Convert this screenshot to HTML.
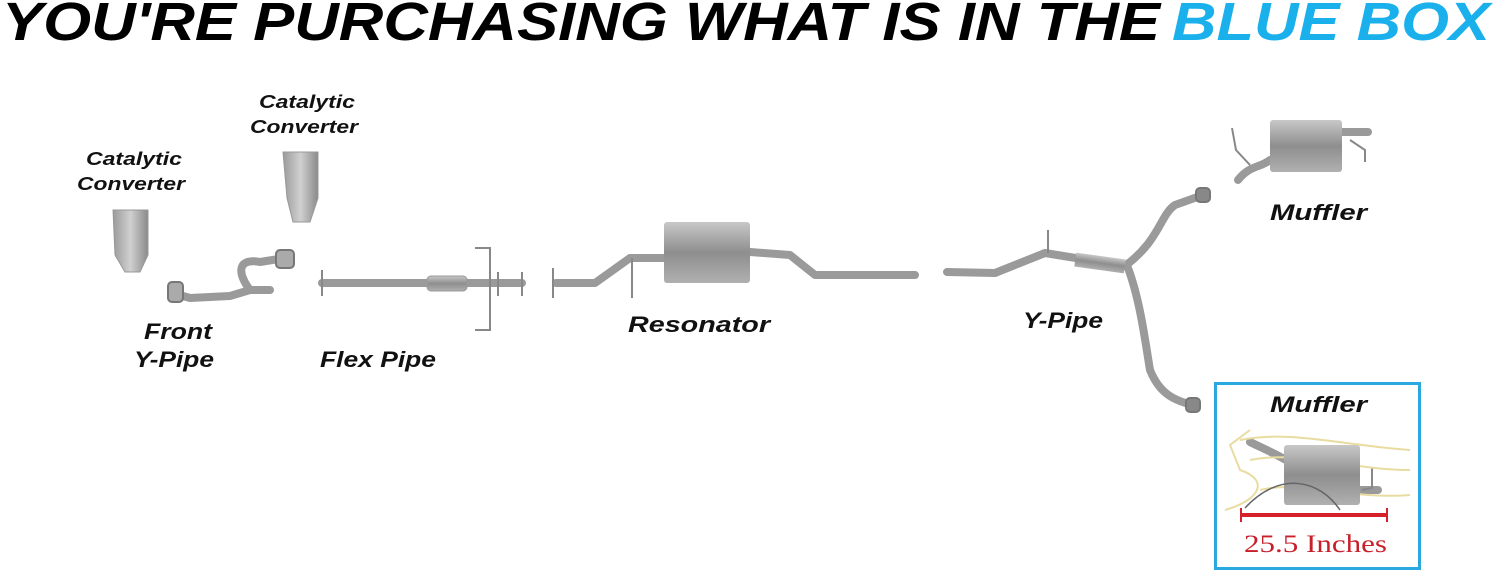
<!DOCTYPE html>
<html><head><meta charset="utf-8"><style>
html,body{margin:0;padding:0;background:#fff;width:1500px;height:573px;overflow:hidden}
</style></head><body>
<svg width="1500" height="573" viewBox="0 0 1500 573" xmlns="http://www.w3.org/2000/svg">
<defs>
<linearGradient id="g" x1="0" y1="0" x2="0" y2="1"><stop offset="0" stop-color="#c8c8c8"/><stop offset="0.5" stop-color="#8e8e8e"/><stop offset="1" stop-color="#b0b0b0"/></linearGradient>
<linearGradient id="gv" x1="0" y1="0" x2="1" y2="0"><stop offset="0" stop-color="#9a9a9a"/><stop offset="0.5" stop-color="#d0d0d0"/><stop offset="1" stop-color="#8a8a8a"/></linearGradient>
</defs>
<g font-family="Liberation Sans, sans-serif" font-weight="bold" font-style="italic" font-size="54">
<text x="2" y="40" textLength="1158" lengthAdjust="spacingAndGlyphs" fill="#000">YOU'RE PURCHASING WHAT IS IN THE</text>
<text x="1172" y="40" textLength="318" lengthAdjust="spacingAndGlyphs" fill="#1ab0ec">BLUE BOX</text>
</g>
<g fill="none" stroke="#9a9a9a" stroke-width="8" stroke-linejoin="round" stroke-linecap="round">
<path d="M176 294 L190 298 L230 296 L250 290 L270 290"/>
<path d="M250 290 C235 270 240 258 260 262 L285 258"/>
<path d="M322 283 L522 283"/>
<path d="M556 283 L595 283 L630 258 L664 258"/>
<path d="M750 252 L790 255 L815 275 L915 275"/>
<path d="M947 272 L995 273 L1045 253 L1125 266"/>
<path d="M1125 266 C1160 240 1160 215 1175 205 L1203 195"/>
<path d="M1128 268 C1140 300 1145 340 1150 370 C1160 395 1175 400 1192 405"/>
<path d="M1238 180 C1250 165 1260 168 1270 160"/>
<path d="M1340 132 L1368 132"/>
<path d="M1250 442 C1262 448 1272 452 1286 460"/>
<path d="M1360 490 L1378 490"/>
</g>
<g stroke="#888" stroke-width="2" fill="none">
<path d="M322 270 V296 M522 272 V296 M553 268 V298 M475 248 H490 V330 H475 M498 272 V296"/>
<path d="M632 258 V298 M1048 230 V253 M1232 128 L1236 150 L1250 165 M1350 140 L1365 150 L1365 162 M1372 468 V488 L1362 490"/>
</g>
<g stroke="#777" stroke-width="2">
<rect x="168" y="282" width="15" height="20" rx="4" fill="#aaa"/>
<rect x="276" y="250" width="18" height="18" rx="4" fill="#aaa"/>
<rect x="1196" y="188" width="14" height="14" rx="4" fill="#888"/>
<rect x="1186" y="398" width="14" height="14" rx="4" fill="#888"/>
</g>
<rect x="427" y="276" width="40" height="15" rx="4" fill="url(#g)" stroke="#999"/>
<path d="M113 210 H148 V255 L140 272 H125 L115 255 Z" fill="url(#gv)" stroke="#999"/>
<path d="M283 152 H318 V198 L310 222 H293 L287 198 Z" fill="url(#gv)" stroke="#999"/>
<rect x="664" y="222" width="86" height="61" rx="3" fill="url(#g)"/>
<rect x="1075" y="256" width="50" height="14" fill="url(#g)" transform="rotate(8 1100 263)"/>
<rect x="1270" y="120" width="72" height="52" rx="3" fill="url(#g)"/>
<rect x="1215.5" y="383.5" width="204" height="185" fill="none" stroke="#2aa8e0" stroke-width="3"/>
<g fill="none" stroke="#e8dca0" stroke-width="2">
<path d="M1240 440 C1290 430 1340 445 1410 450"/>
<path d="M1250 460 C1300 450 1350 470 1410 470"/>
<path d="M1260 490 C1300 480 1350 500 1410 495"/>
<path d="M1225 510 C1260 500 1270 480 1240 470 L1230 445 L1250 430"/>
</g>
<rect x="1284" y="445" width="76" height="60" rx="3" fill="url(#g)"/>
<path d="M1245 508 C1280 470 1320 480 1340 510" fill="none" stroke="#666" stroke-width="1.5"/>
<line x1="1241" y1="515" x2="1387" y2="515" stroke="#d6202a" stroke-width="4"/>
<line x1="1241" y1="508" x2="1241" y2="522" stroke="#d6202a" stroke-width="2"/>
<line x1="1387" y1="508" x2="1387" y2="522" stroke="#d6202a" stroke-width="2"/>
<text x="1244" y="552" textLength="143" lengthAdjust="spacingAndGlyphs" font-family="Liberation Serif, serif" font-size="25" fill="#c8202a">25.5 Inches</text>
<g font-family="Liberation Sans, sans-serif" font-weight="bold" font-style="italic" fill="#111" lengthAdjust="spacingAndGlyphs">
<g font-size="18">
<text x="86" y="165" textLength="96" lengthAdjust="spacingAndGlyphs">Catalytic</text><text x="77" y="190" textLength="108" lengthAdjust="spacingAndGlyphs">Converter</text>
<text x="259" y="108" textLength="96" lengthAdjust="spacingAndGlyphs">Catalytic</text><text x="250" y="133" textLength="108" lengthAdjust="spacingAndGlyphs">Converter</text>
</g>
<g font-size="22">
<text x="144" y="339" textLength="68" lengthAdjust="spacingAndGlyphs">Front</text>
<text x="134" y="367" textLength="80" lengthAdjust="spacingAndGlyphs">Y-Pipe</text>
<text x="320" y="367" textLength="116" lengthAdjust="spacingAndGlyphs">Flex Pipe</text>
<text x="628" y="332" textLength="142" lengthAdjust="spacingAndGlyphs">Resonator</text>
<text x="1023" y="328" textLength="80" lengthAdjust="spacingAndGlyphs">Y-Pipe</text>
<text x="1270" y="220" textLength="97" lengthAdjust="spacingAndGlyphs">Muffler</text>
<text x="1270" y="412" textLength="97" lengthAdjust="spacingAndGlyphs">Muffler</text>
</g></g>
</svg>
</body></html>
